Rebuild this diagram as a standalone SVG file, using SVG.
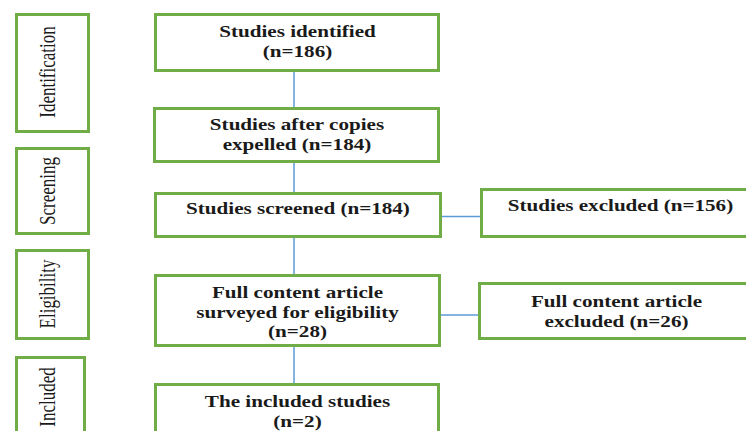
<svg xmlns="http://www.w3.org/2000/svg" width="746" height="431" viewBox="0 0 746 431">
<style>
.box{fill:#fff;stroke:#70AD47;stroke-width:3}
.conn{stroke:#5B9BD5;stroke-width:1.5;fill:none}
.t{font-family:"Liberation Serif","Times New Roman",serif;font-weight:bold;font-size:16px;fill:#1a1a1a;text-anchor:middle}
.s{font-family:"Liberation Serif","Times New Roman",serif;font-size:17px;fill:#1a1a1a;text-anchor:middle}
</style>
<rect width="746" height="431" fill="#fff"/>
<g id="connectors">
<line class="conn" x1="294" y1="72" x2="294" y2="107"/>
<line class="conn" x1="294" y1="163" x2="294" y2="192"/>
<line class="conn" x1="294" y1="238" x2="294" y2="274"/>
<line class="conn" x1="294" y1="347" x2="294" y2="383"/>
<line class="conn" x1="442" y1="216.5" x2="480" y2="216.5"/>
<line class="conn" x1="441" y1="315" x2="478" y2="315"/>
</g>
<g id="identification">
<rect class="box" x="16.5" y="14.5" width="72" height="117"/>
<text class="s" transform="translate(55,72) scale(1.32,1) rotate(-90)">Identification</text>
</g>
<g id="screening">
<rect class="box" x="16.5" y="148.5" width="72" height="85"/>
<text class="s" transform="translate(55,191) scale(1.32,1) rotate(-90)">Screening</text>
</g>
<g id="eligibility">
<rect class="box" x="16.5" y="250.5" width="72" height="88"/>
<text class="s" transform="translate(55,294) scale(1.32,1) rotate(-90)">Eligibility</text>
</g>
<g id="included">
<rect class="box" x="16.5" y="357.5" width="68" height="100"/>
<text class="s" transform="translate(55,397) scale(1.32,1) rotate(-90)">Included</text>
</g>
<g id="identified">
<rect class="box" x="155.5" y="14.5" width="283" height="56"/>
<text class="t" transform="matrix(1.32 0 0 1 297.5 37)">Studies identified</text>
<text class="t" transform="matrix(1.32 0 0 1 297.5 57)">(n=186)</text>
</g>
<g id="after-copies">
<rect class="box" x="154.5" y="108.5" width="284" height="53"/>
<text class="t" transform="matrix(1.32 0 0 1 297 130)">Studies after copies</text>
<text class="t" transform="matrix(1.32 0 0 1 297 150)">expelled (n=184)</text>
</g>
<g id="screened">
<rect class="box" x="155.5" y="193.5" width="285" height="43"/>
<text class="t" transform="matrix(1.32 0 0 1 298 214)">Studies screened (n=184)</text>
</g>
<g id="excluded">
<rect class="box" x="481.5" y="189.5" width="280" height="47"/>
<text class="t" transform="matrix(1.32 0 0 1 620.5 211)">Studies excluded (n=156)</text>
</g>
<g id="full-content">
<rect class="box" x="155.5" y="275.5" width="284" height="70"/>
<text class="t" transform="matrix(1.32 0 0 1 297.5 298)">Full content article</text>
<text class="t" transform="matrix(1.32 0 0 1 297.5 318)">surveyed for eligibility</text>
<text class="t" transform="matrix(1.32 0 0 1 297.5 337)">(n=28)</text>
</g>
<g id="full-excluded">
<rect class="box" x="479.5" y="283.5" width="280" height="55"/>
<text class="t" transform="matrix(1.32 0 0 1 616.5 307)">Full content article</text>
<text class="t" transform="matrix(1.32 0 0 1 616.5 327)">excluded (n=26)</text>
</g>
<g id="included-studies">
<rect class="box" x="155.5" y="384.5" width="283" height="70"/>
<text class="t" transform="matrix(1.32 0 0 1 297.5 407)">The included studies</text>
<text class="t" transform="matrix(1.32 0 0 1 297.5 427)">(n=2)</text>
</g>
</svg>
